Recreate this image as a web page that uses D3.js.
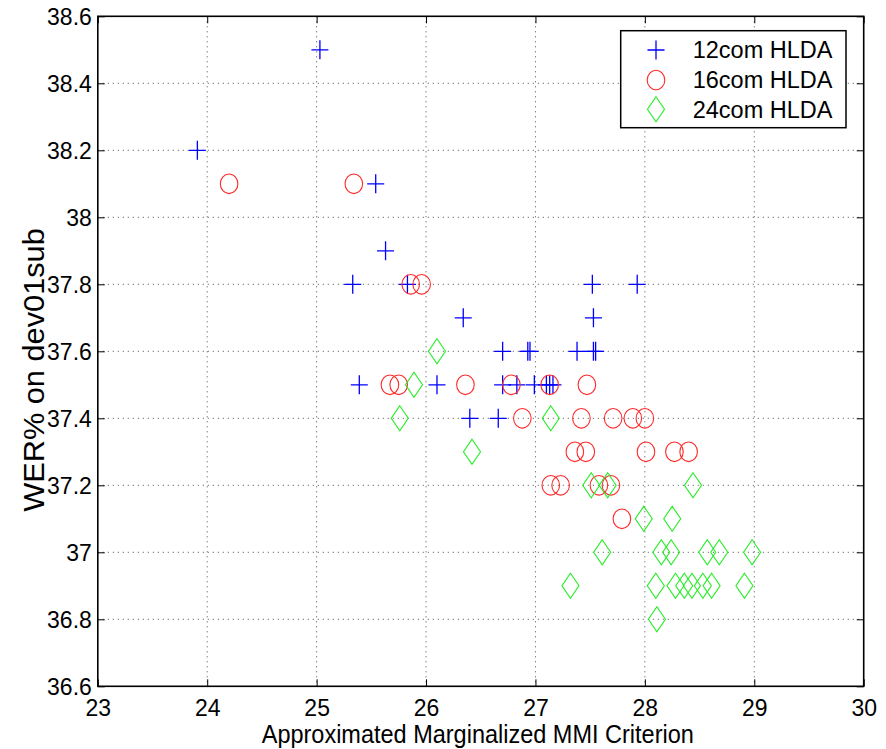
<!DOCTYPE html>
<html>
<head>
<meta charset="utf-8">
<script src="https://cdn.jsdelivr.net/npm/d3@7"></script>
<style>
  html, body { margin: 0; padding: 0; background: #fff; }
  svg { display: block; font-family: "Liberation Sans", Arial, Helvetica, sans-serif; }
</style>
</head>
<body>
<svg id="chart" width="886" height="749"></svg>
<script>
// WER% versus approximated marginalized MMI criterion, three HLDA systems
const seriesNames = ["12com HLDA", "16com HLDA", "24com HLDA"];

const com12 = [
  [23.91, 38.2], [25.03, 38.5], [25.54, 38.1], [25.63, 37.9],
  [25.33, 37.8], [25.83, 37.8], [27.52, 37.8], [27.93, 37.8],
  [26.34, 37.7], [27.53, 37.7],
  [26.70, 37.6], [26.93, 37.6], [26.95, 37.6], [27.38, 37.6], [27.53, 37.6], [27.55, 37.6],
  [25.39, 37.5], [26.10, 37.5], [26.70, 37.5], [26.83, 37.5], [26.99, 37.5],
  [27.10, 37.5], [27.13, 37.5], [27.16, 37.5],
  [26.40, 37.4], [26.66, 37.4]
];

const com16 = [
  [24.20, 38.1], [25.34, 38.1], [25.86, 37.8], [25.96, 37.8],
  [25.67, 37.5], [25.75, 37.5], [26.36, 37.5], [26.78, 37.5], [27.13, 37.5], [27.47, 37.5],
  [26.88, 37.4], [27.42, 37.4], [27.71, 37.4], [27.89, 37.4], [28.00, 37.4],
  [27.36, 37.3], [27.46, 37.3], [28.01, 37.3], [28.27, 37.3], [28.40, 37.3],
  [27.14, 37.2], [27.23, 37.2], [27.58, 37.2], [27.69, 37.2],
  [27.79, 37.1]
];

const com24 = [
  [26.10, 37.6], [25.89, 37.5], [25.76, 37.4], [27.14, 37.4], [26.42, 37.3],
  [27.51, 37.2], [27.66, 37.2], [28.44, 37.2],
  [27.99, 37.1], [28.25, 37.1],
  [27.61, 37.0], [28.15, 37.0], [28.24, 37.0], [28.57, 37.0], [28.68, 37.0], [28.98, 37.0],
  [27.32, 36.9], [28.10, 36.9], [28.28, 36.9], [28.36, 36.9], [28.43, 36.9],
  [28.53, 36.9], [28.61, 36.9], [28.91, 36.9],
  [28.11, 36.8]
];

const xTicks = [23, 24, 25, 26, 27, 28, 29, 30];
const yTicks = [36.6, 36.8, 37, 37.2, 37.4, 37.6, 37.8, 38, 38.2, 38.4, 38.6];

const xLabel = "Approximated Marginalized MMI Criterion";
const yLabel = "WER% on dev01sub";

// ---- layout ----
const plotL = 97.8, plotR = 863.7, plotT = 16.3, plotB = 686.3;
const svg = d3.select("#chart");

const x = d3.scaleLinear().domain([23, 30]).range([plotL, plotR]);
const y = d3.scaleLinear().domain([36.6, 38.6]).range([plotB, plotT]);

// dotted grid
const grid = svg.append("g")
  .attr("stroke", "#000").attr("stroke-width", 1)
  .attr("stroke-dasharray", "1,4").attr("opacity", 0.7);
grid.selectAll(".vg").data(xTicks.slice(1, -1)).join("line")
  .attr("x1", d => x(d)).attr("x2", d => x(d))
  .attr("y1", plotT).attr("y2", plotB);
grid.selectAll(".hg").data(yTicks.slice(1, -1)).join("line")
  .attr("x1", plotL).attr("x2", plotR)
  .attr("y1", d => y(d)).attr("y2", d => y(d));

// axes: labels outside, ticks pointing inward
const tickLen = 7;
const fontTick = 23;
const stretch = 1.07;   // slightly tall glyphs

const xAxis = d3.axisBottom(x).tickValues(xTicks).tickFormat(d3.format("d"))
  .tickSizeInner(-tickLen).tickSizeOuter(0).tickPadding(12);
const gx = svg.append("g").attr("transform", `translate(0,${plotB})`).call(xAxis);

const yAxis = d3.axisLeft(y).tickValues(yTicks).tickFormat(d => String(+d.toFixed(1)))
  .tickSizeInner(-tickLen).tickSizeOuter(0).tickPadding(6);
const gy = svg.append("g").attr("transform", `translate(${plotL},0)`).call(yAxis);

// mirrored ticks on top and right edges
const gxTop = svg.append("g").attr("transform", `translate(0,${plotT})`)
  .call(d3.axisTop(x).tickValues(xTicks).tickSizeInner(-tickLen).tickSizeOuter(0).tickFormat(""));
const gyRight = svg.append("g").attr("transform", `translate(${plotR},0)`)
  .call(d3.axisRight(y).tickValues(yTicks).tickSizeInner(-tickLen).tickSizeOuter(0).tickFormat(""));

[gx, gy, gxTop, gyRight].forEach(g => {
  g.select(".domain").remove();
  g.selectAll(".tick line").attr("stroke", "#000").attr("stroke-width", 1);
  g.selectAll("text").attr("fill", "#000").attr("font-size", fontTick)
    .attr("font-family", "'Liberation Sans', Arial, sans-serif");
});
gx.selectAll("text").attr("dy", "0.71em")
  .attr("y", 12 / stretch).attr("transform", `scale(1,${stretch})`);
gy.selectAll("text").attr("transform", `scale(1,${stretch})`);

// box
svg.append("rect")
  .attr("x", plotL).attr("y", plotT)
  .attr("width", plotR - plotL).attr("height", plotB - plotT)
  .attr("fill", "none").attr("stroke", "#000").attr("stroke-width", 1.6);

// marker shapes
const plusPath = "M-8.5,0H8.5M0,-9.5V9.5";
const diamondPath = "M0,-12.5L8.5,0L0,12.5L-8.5,0Z";

function drawPlus(g, cx, cy) {
  g.append("path").attr("d", plusPath).attr("transform", `translate(${cx},${cy})`)
    .attr("stroke", "#0000ff").attr("stroke-width", 1.3).attr("fill", "none");
}
function drawCircle(g, cx, cy) {
  g.append("ellipse").attr("cx", cx).attr("cy", cy).attr("rx", 8.8).attr("ry", 9.8)
    .attr("stroke", "#ff2a2a").attr("stroke-width", 1.1).attr("fill", "none");
}
function drawDiamond(g, cx, cy) {
  g.append("path").attr("d", diamondPath).attr("transform", `translate(${cx},${cy})`)
    .attr("stroke", "#22ee22").attr("stroke-width", 1.1).attr("fill", "none");
}

const plot = svg.append("g");
const gBlue = plot.append("g"), gRed = plot.append("g"), gGreen = plot.append("g");
com12.forEach(d => drawPlus(gBlue, x(d[0]), y(d[1])));
com16.forEach(d => drawCircle(gRed, x(d[0]), y(d[1])));
com24.forEach(d => drawDiamond(gGreen, x(d[0]), y(d[1])));

// legend
const leg = svg.append("g");
leg.append("rect")
  .attr("x", 620.7).attr("y", 30.7).attr("width", 225.3).attr("height", 97)
  .attr("fill", "#fff").attr("stroke", "#000").attr("stroke-width", 1.5);
const legRows = [50, 80, 109.3];
const drawers = [drawPlus, drawCircle, drawDiamond];
seriesNames.forEach((name, i) => {
  drawers[i](leg, 656, legRows[i]);
  leg.append("text")
    .attr("x", 692.7).attr("y", legRows[i]).attr("dy", "0.36em")
    .attr("font-size", 23.5).attr("fill", "#000")
    .text(name);
});

// axis titles
svg.append("text")
  .attr("transform", `translate(${(plotL + plotR) / 2 - 3},743) scale(1,1.06)`)
  .attr("text-anchor", "middle").attr("font-size", 23.5).attr("fill", "#000")
  .text(xLabel);

svg.append("text")
  .attr("transform", `translate(43.5,370) scale(1,1.06) rotate(-90)`)
  .attr("text-anchor", "middle").attr("font-size", 29).attr("fill", "#000")
  .text(yLabel);
</script>
</body>
</html>
